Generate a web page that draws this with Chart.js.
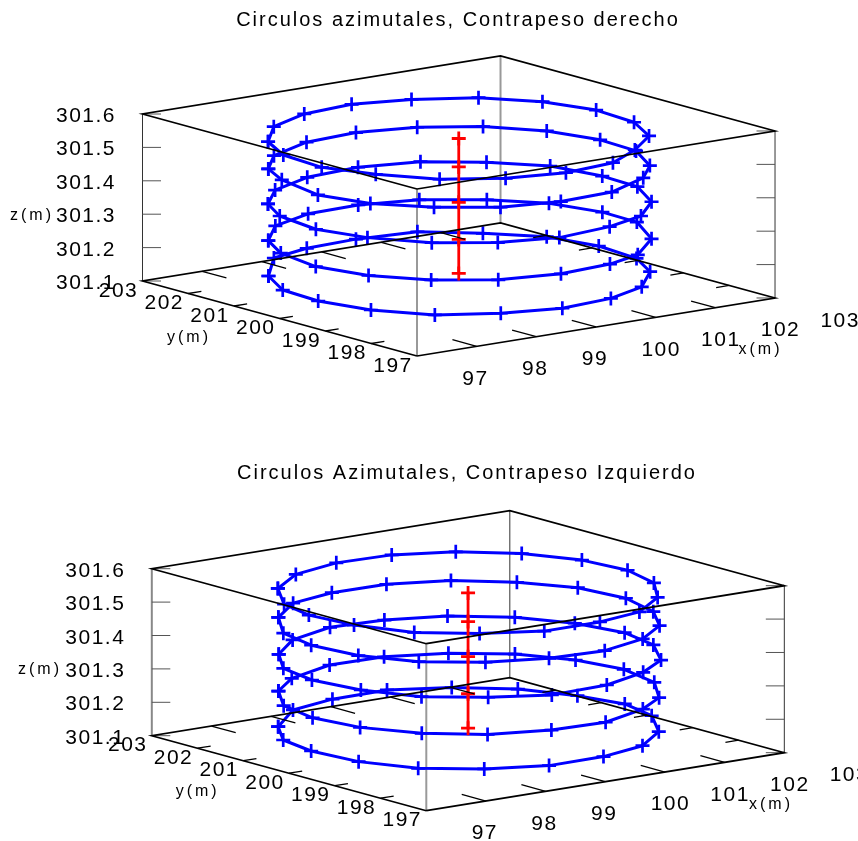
<!DOCTYPE html>
<html><head><meta charset="utf-8">
<style>html,body{margin:0;padding:0;background:#fff;overflow:hidden}canvas{position:absolute;left:0}</style>
<script src="https://cdn.jsdelivr.net/npm/chart.js@4"></script>
</head><body>
<canvas id="c1" style="top:0"></canvas>
<canvas id="c2" style="top:430px"></canvas>
<script>
// ---- Data (metres) ----
const xTickLabels=[97,98,99,100,101,102,103];
const yTickLabels=[197,198,199,200,201,202,203];
const zTickLabels=[301.1,301.2,301.3,301.4,301.5,301.6];
const xLimits=[96,102], yLimits=[197,203], zLimits=[301.1,301.6];
const axisNames=['x(m)','y(m)','z(m)'];

const title1='Circulos azimutales, Contrapeso derecho';
const centreX1=[99,99,99,99,99], centreY1=[200,200,200,200,200];
const centreZ1=[301.552,301.467,301.361,301.250,301.148];
const ring1aX=[96.87,97.51,98.32,99.19,100.01,100.78,101.30,101.54,101.47,101.10,100.41,99.69,98.81,97.96,97.23,96.75,96.45,96.52];
const ring1aY=[201.39,202.10,202.49,202.59,202.35,201.89,201.17,200.31,199.39,198.58,197.99,197.53,197.41,197.62,198.11,198.88,199.67,200.60];
const ring1bX=[96.92,97.49,98.35,99.24,100.09,100.81,101.31,101.53,101.48,101.06,100.52,99.64,98.74,97.89,97.19,96.66,96.44,96.64];
const ring1bY=[201.45,202.07,202.48,202.56,202.33,201.83,201.09,200.21,199.36,198.51,197.95,197.49,197.43,197.64,198.18,198.88,199.74,200.79];
const ring1cX=[96.93,97.54,98.37,99.29,100.16,100.83,101.36,101.52,101.48,101.05,100.39,99.65,98.70,97.86,97.16,96.68,96.46,96.59];
const ring1cY=[201.47,202.11,202.49,202.58,202.35,201.78,201.08,200.15,199.33,198.46,197.83,197.55,197.41,197.66,198.19,198.97,199.81,200.77];
const ring1dX=[96.95,97.59,98.40,99.27,100.11,100.82,101.34,101.56,101.54,101.05,100.29,99.64,98.75,97.86,97.15,96.66,96.45,96.60];
const ring1dY=[201.49,202.17,202.51,202.55,202.31,201.76,201.08,200.20,199.42,198.46,197.77,197.53,197.44,197.65,198.19,198.92,199.80,200.76];
const ring1eX=[96.90,97.65,98.37,99.24,100.17,100.80,101.34,101.53,101.45,101.08,100.41,99.64,98.75,97.91,97.15,96.67,96.46,96.51];
const ring1eY=[201.42,202.28,202.50,202.56,202.43,201.82,201.13,200.24,199.31,198.53,197.84,197.51,197.41,197.66,198.11,198.88,199.76,200.60];

const title2='Circulos Azimutales, Contrapeso Izquierdo';
const centreX2=[99,99,99,99,99], centreY2=[200,200,200,200,200];
const centreZ2=[301.553,301.467,301.362,301.251,301.148];
const ring2aX=[97.17,97.90,98.77,99.66,100.45,101.08,101.46,101.55,101.34,100.82,100.07,99.27,98.33,97.56,96.91,96.56,96.47,96.63];
const ring2aY=[201.77,202.33,202.58,202.53,202.16,201.54,200.72,199.84,198.99,198.23,197.65,197.47,197.46,197.87,198.45,199.31,200.18,200.93];
const ring2bX=[97.17,97.87,98.68,99.58,100.40,101.03,101.46,101.56,101.33,100.86,100.17,99.32,98.44,97.62,96.94,96.54,96.44,96.61];
const ring2bY=[201.76,202.35,202.56,202.54,202.20,201.58,200.81,199.89,198.99,198.24,197.71,197.43,197.50,197.82,198.39,199.19,200.09,200.92];
const ring2cX=[97.10,97.80,98.68,99.53,100.35,101.01,101.41,101.57,101.40,100.90,100.24,99.37,98.41,97.65,96.97,96.59,96.46,96.61];
const ring2cY=[201.66,202.27,202.60,202.52,202.21,201.60,200.81,199.93,199.08,198.26,197.79,197.45,197.40,197.80,198.37,199.20,200.10,200.92];
const ring2dX=[97.11,97.74,98.65,99.54,100.35,101.02,101.43,101.58,101.40,100.86,100.25,99.35,98.48,97.64,96.99,96.57,96.44,96.60];
const ring2dY=[201.68,202.21,202.57,202.54,202.19,201.61,200.82,199.96,199.06,198.25,197.81,197.45,197.50,197.80,198.39,199.19,200.06,200.90];
const ring2eX=[97.06,97.86,98.69,99.62,100.39,101.03,101.40,101.58,101.41,100.87,100.16,99.33,98.41,97.60,96.93,96.56,96.47,96.60];
const ring2eY=[201.62,202.34,202.56,202.58,202.17,201.56,200.74,199.94,199.13,198.27,197.70,197.47,197.46,197.82,198.39,199.21,200.13,200.91];

// ---- Style / layout ----
const FONT="'Liberation Sans', Arial, sans-serif";
const BLUE='#0000ff', RED='#ff0000', BLACK='#000000';

function panelChart(id,cfg){
  const cv=document.getElementById(id);
  cv.width=858; cv.height=cfg.canvasH;
  cv.style.width='858px'; cv.style.height=cfg.canvasH+'px';
  // oblique projection: metres -> page pixels
  const O=cfg.origin;
  const project=(x,y,z)=>({
    x:O[0]+(x-xLimits[0])*59.67-(y-yLimits[0])*45.75,
    y:O[1]-(x-xLimits[0])*9.67-(y-yLimits[0])*12.5-(z-zLimits[0])*334
  });
  const gap={x:NaN,y:NaN};
  const z0=zLimits[0], z1=zLimits[1];
  const [x0,x1]=xLimits, [y0,y1]=yLimits;
  const line=(data,color,width,extra)=>Object.assign({type:'line',data,borderColor:color,borderWidth:width,pointRadius:0,pointHoverRadius:0,fill:false,tension:0,spanGaps:false,clip:false,borderCapStyle:'butt'},extra||{});

  // black box edges
  const edges=[];
  for(const z of [z0,z1]){
    edges.push(project(x0,y0,z),project(x1,y0,z),project(x1,y1,z),project(x0,y1,z),project(x0,y0,z),gap);
  }
  // floor ticks
  const floorTicks=[];
  for(const v of xTickLabels){ if(v>x0&&v<x1){
    floorTicks.push(project(v,y0,z0),project(v,y0+0.53,z0),gap,project(v,y1,z0),project(v,y1-0.53,z0),gap);
  }}
  for(const v of yTickLabels){ if(v>y0&&v<y1){
    floorTicks.push(project(x0,v,z0),project(x0+0.22,v,z0),gap,project(x1,v,z0),project(x1-0.22,v,z0),gap);
  }}
  // z ticks (horizontal on the page)
  const zTicks=[];
  for(const v of zTickLabels){
    const a=project(x0,y1,v), b=project(x1,y0,v);
    zTicks.push(a,{x:a.x+18.5,y:a.y},gap,b,{x:b.x-18.5,y:b.y},gap);
  }
  const vert=(x,y)=>[project(x,y,z0),project(x,y,z1)];

  const rings=cfg.rings.map(([X,Y,z])=>{
    const pts=X.map((x,i)=>project(x,Y[i],z)); pts.push(pts[0]); return pts;
  });
  const axisPts=cfg.centreZ.map((z,i)=>project(cfg.centreX[i],cfg.centreY[i],z));

  const datasets=[
    line(edges,BLACK,1.7),
    line(floorTicks,BLACK,1.3),
    line(axisPts,RED,2.8,{pointStyle:'cross',pointRadius:7,pointBorderColor:RED,pointBorderWidth:2.8,pointBackgroundColor:RED}),
    ...rings.map(p=>line(p,BLUE,3,{pointStyle:'cross',pointRadius:7,pointBorderColor:BLUE,pointBorderWidth:2.7,pointBackgroundColor:BLUE,borderJoinStyle:'round'})),
    line(zTicks,'#555555',1),
    ...cfg.verts.map(v=>line(vert(v[0],v[1]),v[2],v[3]))
  ];

  const texts=[];
  for(const v of zTickLabels){const p=project(x0,y1,v); texts.push({t:v.toFixed(1),x:p.x-86.5,y:p.y+2.3,font:21,ls:1.5});}
  for(const v of yTickLabels){const p=project(x0,v,z0); texts.push({t:String(v),x:p.x-43.8,y:p.y+10,font:21,ls:1.5});}
  for(const v of xTickLabels){const p=project(v,y0,z0); texts.push({t:String(v),x:p.x-14.3,y:p.y+32.5,font:21,ls:1.5});}
  cfg.axisTitles.forEach((a,i)=>texts.push({t:axisNames[i],x:a[0],y:a[1]+1,font:16,ls:3}));

  const labelPlugin={id:'labels',
    beforeDraw(ch){ch.ctx.letterSpacing='2px';},
    beforeDatasetsDraw(ch){ch.ctx.letterSpacing='0px';},
    afterDatasetsDraw(ch){
      const c=ch.ctx,sx=ch.scales.x,sy=ch.scales.y;
      c.save();c.fillStyle='#000';c.textAlign='left';c.textBaseline='middle';
      for(const t of texts){c.letterSpacing=t.ls+'px';c.font=t.font+'px '+FONT;
        c.fillText(t.t,sx.getPixelForValue(t.x),sy.getPixelForValue(t.y));}
      c.restore();
    }};

  return new Chart(cv,{
    type:'scatter',
    data:{datasets},
    plugins:[labelPlugin],
    options:{
      responsive:false,animation:false,events:[],
      layout:{autoPadding:false,padding:{left:cfg.padLeft,right:0,top:0,bottom:0}},
      plugins:{legend:{display:false},tooltip:{enabled:false},
        title:{display:true,text:cfg.title,color:'#000',align:'center',
          font:{family:FONT,size:20,weight:'normal',lineHeight:1.2},
          padding:{top:cfg.titleTop,bottom:cfg.titleBlock-cfg.titleTop-24}}},
      scales:{
        x:{type:'linear',display:false,min:cfg.padLeft,max:858},
        y:{type:'linear',display:false,reverse:true,min:cfg.pageTop+cfg.titleBlock,max:cfg.pageTop+cfg.canvasH}
      }
    }
  });
}

panelChart('c1',{
  canvasH:430,pageTop:0,padLeft:58,titleTop:8,titleBlock:40,title:title1,
  origin:[417,356],
  rings:[[ring1aX,ring1aY,centreZ1[0]],[ring1bX,ring1bY,centreZ1[1]],[ring1cX,ring1cY,centreZ1[2]],[ring1dX,ring1dY,centreZ1[3]],[ring1eX,ring1eY,centreZ1[4]]],
  centreX:centreX1,centreY:centreY1,centreZ:centreZ1,
  verts:[[96,203,'#333333',1],[102,203,'#999999',2],[96,197,'#999999',2],[102,197,'#333333',1]],
  axisTitles:[[738.5,349],[167,336.5],[10,214.5]]
});
panelChart('c2',{
  canvasH:411,pageTop:430,padLeft:76,titleTop:31.8,titleBlock:60,title:title2,
  origin:[426.3,810.7],
  rings:[[ring2aX,ring2aY,centreZ2[0]],[ring2bX,ring2bY,centreZ2[1]],[ring2cX,ring2cY,centreZ2[2]],[ring2dX,ring2dY,centreZ2[3]],[ring2eX,ring2eY,centreZ2[4]]],
  centreX:centreX2,centreY:centreY2,centreZ:centreZ2,
  verts:[[96,203,'#888888',2],[102,203,'#333333',1],[96,197,'#999999',2],[102,197,'#333333',1]],
  axisTitles:[[749,804],[175.7,790.5],[18,668.5]]
});
</script></body></html>
